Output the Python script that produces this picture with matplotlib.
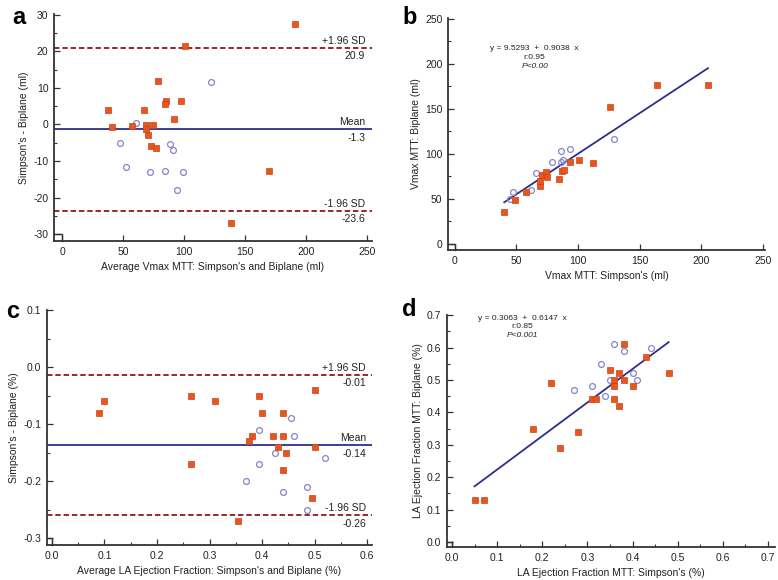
import numpy as np
import matplotlib
matplotlib.use("Agg")
import matplotlib.pyplot as plt
from matplotlib.ticker import MultipleLocator

plt.rcParams['font.family'] = ['Liberation Sans', 'DejaVu Sans']
plt.rcParams['axes.unicode_minus'] = False

# panel a: Bland-Altman, Vmax volumes
a_sq_x = [190.7, 101.1, 78.4, 38.0, 66.9, 85.5, 84.2, 97.3, 91.8, 41.0, 57.6, 68.8, 74.3, 68.8, 70.8, 73.2, 77.0, 169.7, 138.5]
a_sq_y = [27.6, 21.5, 11.8, 3.9, 3.9, 6.3, 5.6, 6.3, 1.5, -0.7, -0.5, -0.2, -0.2, -1.2, -3.0, -6.0, -6.4, -12.8, -26.9]
a_ci_x = [122.4, 60.9, 47.8, 52.7, 72.1, 84.4, 99.2, 88.5, 90.7, 94.5]
a_ci_y = [11.5, 0.4, -5.1, -11.6, -13.0, -12.8, -12.9, -5.5, -7.1, -18.0]
a_limits = [20.9, -1.3, -23.6]

# panel b: correlation, Vmax volumes
b_sq_x = [40.3, 48.7, 57.6, 69.2, 69.2, 71.1, 74.3, 74.9, 84.9, 87.3, 88.9, 93.5, 101.1, 112.2, 125.7, 163.8, 205.4]
b_sq_y = [35.0, 48.7, 57.5, 64.5, 69.3, 76.0, 80.0, 74.1, 71.9, 80.7, 81.5, 90.7, 93.3, 89.6, 151.5, 175.9, 175.9]
b_ci_x = [47.3, 45.1, 61.6, 66.0, 78.7, 86.0, 87.8, 86.2, 93.5, 129.2]
b_ci_y = [57.9, 49.8, 60.1, 78.2, 90.3, 102.9, 93.3, 90.3, 105.1, 116.1]
b_fit = [9.5293, 0.9038]

# panel c: Bland-Altman, LA ejection fraction
c_sq_x = [0.09, 0.10, 0.265, 0.31, 0.265, 0.395, 0.40, 0.38, 0.375, 0.42, 0.44, 0.44, 0.43, 0.445, 0.44, 0.50, 0.50, 0.495, 0.355]
c_sq_y = [-0.08, -0.06, -0.05, -0.06, -0.17, -0.05, -0.08, -0.12, -0.13, -0.12, -0.08, -0.12, -0.14, -0.15, -0.18, -0.04, -0.14, -0.23, -0.27]
c_ci_x = [0.395, 0.455, 0.46, 0.425, 0.395, 0.37, 0.44, 0.485, 0.52, 0.485]
c_ci_y = [-0.11, -0.09, -0.12, -0.15, -0.17, -0.20, -0.22, -0.21, -0.16, -0.25]
c_limits = [-0.013, -0.137, -0.26]

# panel d: correlation, LA ejection fraction
d_sq_x = [0.05, 0.07, 0.18, 0.22, 0.24, 0.28, 0.31, 0.32, 0.35, 0.36, 0.36, 0.36, 0.37, 0.37, 0.38, 0.38, 0.40, 0.43, 0.48]
d_sq_y = [0.13, 0.13, 0.35, 0.49, 0.29, 0.34, 0.44, 0.44, 0.53, 0.50, 0.48, 0.44, 0.52, 0.42, 0.61, 0.50, 0.48, 0.57, 0.52]
d_ci_x = [0.36, 0.38, 0.44, 0.33, 0.27, 0.31, 0.35, 0.34, 0.40, 0.41]
d_ci_y = [0.61, 0.59, 0.60, 0.55, 0.47, 0.48, 0.50, 0.45, 0.52, 0.50]
d_line = [0.12, 1.035]  # line as drawn in the figure

SQ_FACE = '#E8561E'
SQ_EDGE = '#C84418'
CI_EDGE = '#8585C8'
MEAN_C = '#2E2E8C'
SD_C = '#8B1A1A'
AX_C = '#333333'
TXT_C = '#222222'

W, H = 778, 580
fig = plt.figure(figsize=(W / 100, H / 100), dpi=100)


def make_ax(l, r, t, b):
    return fig.add_axes([l / W, 1 - b / H, (r - l) / W, (b - t) / H])


def style(ax, xlim, ylim, xt, yt, xmaj, ymaj, xmin=None, ymin=None):
    for s in ['top', 'right']:
        ax.spines[s].set_visible(False)
    for s in ['left', 'bottom']:
        ax.spines[s].set_color(AX_C)
        ax.spines[s].set_linewidth(1.3)
    ax.set_xticks(np.arange(xt[0], xt[1] + xmaj / 2, xmaj))
    ax.set_yticks(np.arange(yt[0], yt[1] + ymaj / 2, ymaj))
    if xmin:
        ax.xaxis.set_minor_locator(MultipleLocator(xmin))
    if ymin:
        ax.yaxis.set_minor_locator(MultipleLocator(ymin))
    ax.set_xlim(*xlim)
    ax.set_ylim(*ylim)
    ax.tick_params(which='major', direction='in', length=4, width=0.9, color=AX_C,
                   labelsize=7.5, labelcolor=TXT_C, pad=4)
    ax.tick_params(which='minor', direction='in', length=2.5, width=0.8, color=AX_C)
    # small corner box at the origin of the tick ranges
    ax.plot([xlim[0], xt[0], xt[0]], [yt[0], yt[0], ylim[0]], color=AX_C, lw=1.0, clip_on=False)


def points(ax, sx, sy, cx, cy):
    ax.plot(cx, cy, 'o', ms=4.2, mfc='none', mec=CI_EDGE, mew=0.9, ls='none', clip_on=False)
    ax.plot(sx, sy, 's', ms=3.9, mfc=SQ_FACE, mec=SQ_EDGE, mew=0.5, ls='none', clip_on=False)


def ba_lines(ax, limits, labels, xr):
    up, mean, lo = limits
    ax.axhline(up, color=SD_C, lw=1.3, ls=(0, (3, 1.6)))
    ax.axhline(lo, color=SD_C, lw=1.3, ls=(0, (3, 1.6)))
    ax.axhline(mean, color=MEAN_C, lw=1.3)
    for v, top, bot in [(up, '+1.96 SD', labels[0]), (mean, 'Mean', labels[1]), (lo, '-1.96 SD', labels[2])]:
        ax.annotate(top, (xr, v), xytext=(0, 1.5), textcoords='offset points',
                    ha='right', va='bottom', fontsize=7.5, color=TXT_C)
        ax.annotate(bot, (xr, v), xytext=(0, -2.5), textcoords='offset points',
                    ha='right', va='top', fontsize=7.5, color=TXT_C)


# a
ax = make_ax(54, 372, 14, 241)
style(ax, (-6.6, 254), (-31.9, 30.2), (0, 250), (-30, 30), 50, 10, None, 5)
ba_lines(ax, a_limits, ['20.9', '-1.3', '-23.6'], 248.5)
points(ax, a_sq_x, a_sq_y, a_ci_x, a_ci_y)
ax.set_xlabel("Average Vmax MTT: Simpson's and Biplane (ml)", fontsize=7.5, color=TXT_C, labelpad=4)
ax.set_ylabel("Simpson's - Biplane (ml)", fontsize=7.5, color=TXT_C, labelpad=3)

# b
ax = make_ax(448, 765, 18, 250)
style(ax, (-5.3, 251.6), (-7.2, 251), (0, 250), (0, 250), 50, 50, None, 25)
fx = np.array([min(b_sq_x + b_ci_x), max(b_sq_x + b_ci_x)])
ax.plot(fx, b_fit[0] + b_fit[1] * fx, color=MEAN_C, lw=1.3)
points(ax, b_sq_x, b_sq_y, b_ci_x, b_ci_y)
ax.text(65, 217.5, 'y = %.4f  +  %.4f  x' % (b_fit[0], b_fit[1]), ha='center', va='center', fontsize=6, color=TXT_C)
ax.text(65, 207.5, 'r:0.95', ha='center', va='center', fontsize=6, color=TXT_C)
ax.text(65, 197, 'P<0.00', ha='center', va='center', fontsize=6, style='italic', color=TXT_C)
ax.set_xlabel("Vmax MTT: Simpson's (ml)", fontsize=7.5, color=TXT_C, labelpad=4)
ax.set_ylabel("Vmax MTT: Biplane (ml)", fontsize=7.5, color=TXT_C, labelpad=3)

# c
ax = make_ax(47, 372, 310, 545)
style(ax, (-0.0095, 0.6095), (-0.3123, 0.1005), (0, 0.6), (-0.3, 0.1), 0.1, 0.1, 0.05, 0.05)
ba_lines(ax, c_limits, ['-0.01', '-0.14', '-0.26'], 0.598)
points(ax, c_sq_x, c_sq_y, c_ci_x, c_ci_y)
ax.set_xlabel("Average LA Ejection Fraction: Simpson's and Biplane (%)", fontsize=7.5, color=TXT_C, labelpad=4)
ax.set_ylabel("Simpson's - Biplane (%)", fontsize=7.5, color=TXT_C, labelpad=3)

# d
ax = make_ax(447, 775, 315, 547)
style(ax, (-0.011, 0.7155), (-0.0154, 0.7005), (0, 0.7), (0, 0.7), 0.1, 0.1, 0.05, 0.05)
fx = np.array([min(d_sq_x), max(d_sq_x)])
ax.plot(fx, d_line[0] + d_line[1] * fx, color=MEAN_C, lw=1.3)
points(ax, d_sq_x, d_sq_y, d_ci_x, d_ci_y)
ax.text(0.155, 0.69, 'y = 0.3063  +  0.6147  x', ha='center', va='center', fontsize=6, color=TXT_C)
ax.text(0.155, 0.664, 'r:0.85', ha='center', va='center', fontsize=6, color=TXT_C)
ax.text(0.155, 0.636, 'P<0.001', ha='center', va='center', fontsize=6, style='italic', color=TXT_C)
ax.set_xlabel("LA Ejection Fraction MTT: Simpson's (%)", fontsize=7.5, color=TXT_C, labelpad=4)
ax.set_ylabel("LA Ejection Fraction MTT: Biplane (%)", fontsize=7.5, color=TXT_C, labelpad=3)

# panel letters
for lab, x, y in [('a', 12, 24), ('b', 402, 24), ('c', 6, 318), ('d', 402, 316)]:
    fig.text(x / W, 1 - y / H, lab, fontsize=17, fontweight='bold', ha='left', va='baseline')

fig.savefig('out.png', dpi=100)
